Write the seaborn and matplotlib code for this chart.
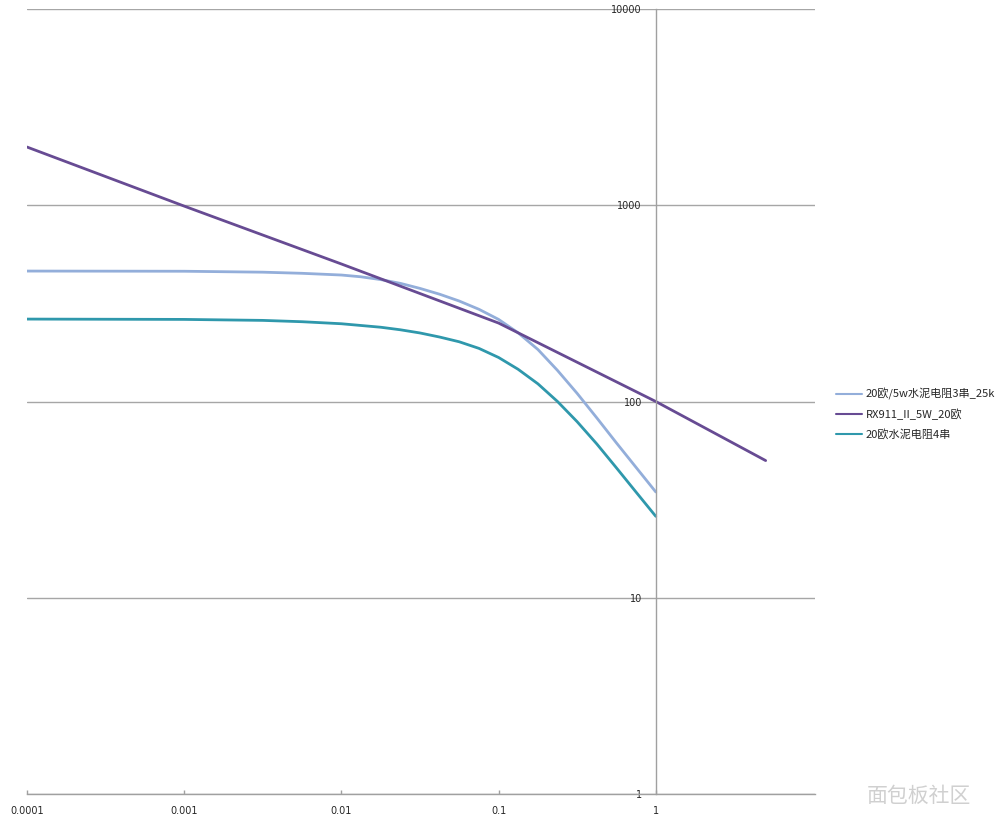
import matplotlib
matplotlib.use("Agg")
import matplotlib.pyplot as plt
import pandas as pd
import seaborn as sns

# curve data (log-log), smoothed by hand
x_curve = [1e-4, 1e-3, 0.00316, 0.00562, 0.01, 0.0133, 0.0178, 0.0237, 0.0316, 0.0422,
           0.0562, 0.075, 0.1, 0.133, 0.178, 0.237, 0.316, 0.422, 0.562, 0.75, 1.0]
blue_vals = [462, 461, 456, 450, 441, 432, 418, 400, 377, 352,
             325, 295, 262, 224, 184, 144, 110, 82.4, 61.5, 46.1, 34.6]
teal_vals = [263, 262, 259, 255, 249, 244, 239, 232, 223.5, 213,
             201.5, 186.5, 167.6, 146, 123, 100, 78.9, 60.7, 45.9, 34.5, 26]
x_rx = [1e-4, 1e-3, 0.01, 0.1, 1.0, 5.0]
rx_vals = [1980, 990, 502, 251, 100, 50]

labels = ["20欧/5w水泥电阻3串_25k", "RX911_II_5W_20欧", "20欧水泥电阻4串"]
colors = ["#93AEDA", "#674B93", "#2F98AC"]

x_ticks = [1e-4, 1e-3, 1e-2, 1e-1, 1]
x_tick_labels = ["0.0001", "0.001", "0.01", "0.1", "1"]
y_ticks = [1, 10, 100, 1000, 10000]
y_tick_labels = ["1", "10", "100", "1000", "10000"]

sns.set_theme(style="white")
plt.rcParams["font.family"] = ["Noto Sans CJK SC", "DejaVu Sans"]

fig = plt.figure(figsize=(10.04, 8.32), dpi=100)
ax = fig.add_axes([27 / 1004, 1 - 794 / 832, 788 / 1004, 785 / 832])

df_blue = pd.DataFrame({"x": x_curve, "y": blue_vals})
df_teal = pd.DataFrame({"x": x_curve, "y": teal_vals})
df_rx = pd.DataFrame({"x": x_rx, "y": rx_vals})

sns.lineplot(data=df_blue, x="x", y="y", ax=ax, color=colors[0], lw=2, label=labels[0])
sns.lineplot(data=df_rx, x="x", y="y", ax=ax, color=colors[1], lw=2, label=labels[1])
sns.lineplot(data=df_teal, x="x", y="y", ax=ax, color=colors[2], lw=2, label=labels[2])

ax.set_xscale("log")
ax.set_yscale("log")
ax.set_xlim(1e-4, 10.3)
ax.set_ylim(1, 10000)

ax.set_xticks(x_ticks)
ax.set_xticklabels(x_tick_labels)
ax.set_yticks(y_ticks)
ax.set_yticklabels(y_tick_labels)
ax.minorticks_off()
ax.set_xlabel("")
ax.set_ylabel("")

ax.yaxis.grid(True, color="#a6a6a6", lw=1)
ax.xaxis.grid(False)
ax.set_axisbelow(True)

for s in ["top", "right"]:
    ax.spines[s].set_visible(False)
ax.spines["left"].set_position(("data", 1))
ax.spines["left"].set_color("#a0a0a0")
ax.spines["bottom"].set_color("#a0a0a0")
ax.spines["left"].set_linewidth(1)
ax.spines["bottom"].set_linewidth(1)

ax.tick_params(axis="x", direction="in", length=3, width=1, color="#a0a0a0",
               labelsize=7, pad=9, bottom=True)
ax.tick_params(axis="y", length=0, labelsize=7, pad=10)
for t in ax.get_xticklabels() + ax.get_yticklabels():
    t.set_family("DejaVu Sans")

leg = ax.legend(loc="upper left", bbox_to_anchor=(836 / 1004, 1 - 388 / 832),
                bbox_transform=fig.transFigure, frameon=False, fontsize=8,
                handlelength=2.3, handletextpad=0.4, labelspacing=0.78,
                borderaxespad=0, borderpad=0)
for line in leg.get_lines():
    line.set_linewidth(1.5)

# watermark in the bottom right corner
fig.text(0.915, 1 - 796 / 832, "面包板社区", fontsize=15, color="#d0d0d0",
         ha="center", va="center", family=["Noto Sans CJK SC", "DejaVu Sans"])

fig.savefig("out.png", dpi=100)
